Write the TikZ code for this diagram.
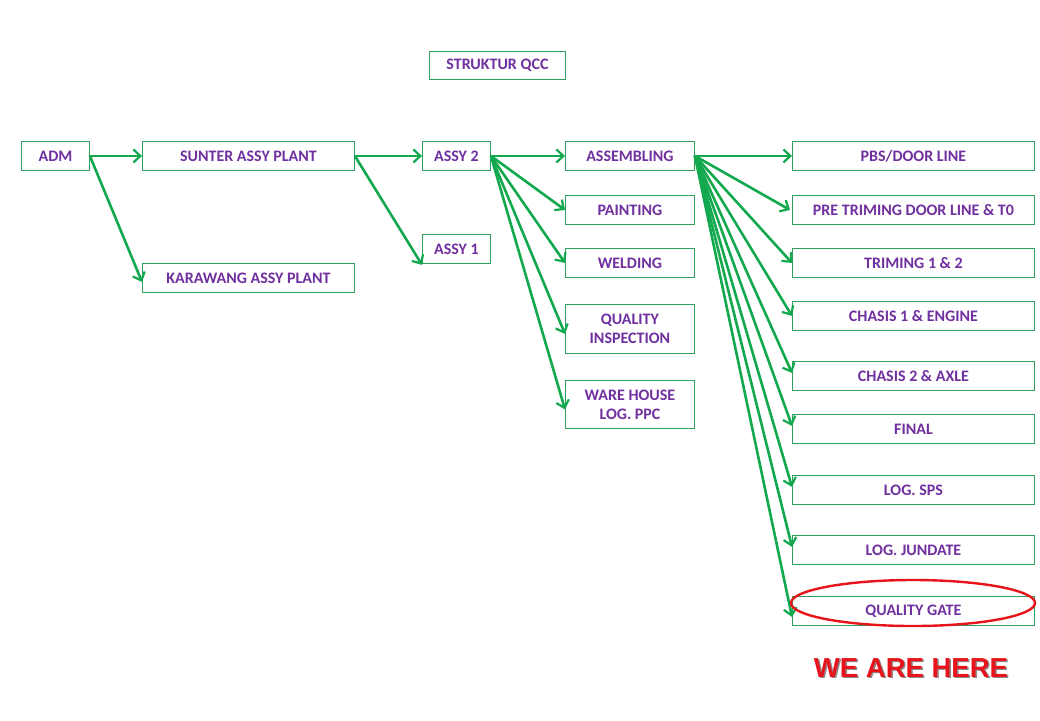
\documentclass[tikz,border=0pt]{standalone}
\usepackage{fontspec}
\setmainfont{Carlito}
\newfontfamily\arialfont{Liberation Sans}
\usetikzlibrary{arrows.meta,shapes.geometric}
\definecolor{boxgreen}{HTML}{2E9E5E}
\definecolor{arrgreen}{HTML}{12A84E}
\definecolor{txtpurple}{HTML}{7030A0}
\definecolor{hered}{HTML}{E8141B}
\tikzset{
  bx/.style={draw=boxgreen, line width=0.9pt, fill=white, inner sep=0pt, anchor=north west,
    font=\fontsize{16}{19}\selectfont\bfseries, text=txtpurple, align=center},
  arr/.style={draw=arrgreen, line width=2.6pt, -{Straight Barb[length=7pt,width=13pt,line width=2.2pt]}},
  heretxt/.style={font=\arialfont\fontsize{27.5}{30}\selectfont\bfseries}
}
\newcommand{\bxnode}[6]{% name, x1,y1,x2,y2, text
  \node[bx, minimum width={#4-#2}, minimum height={#5-#3}] (#1) at (#2,#3) {#6};}
\begin{document}
\begin{tikzpicture}[x=1pt,y=-1pt]
\useasboundingbox (0,0) rectangle (1040,720);
\bxnode{qcc}{429}{51}{565}{79}{STRUKTUR QCC}
\bxnode{adm}{21}{141}{89}{170}{ADM}
\bxnode{sunter}{142}{141}{354}{170}{SUNTER ASSY PLANT}
\bxnode{karawang}{142}{263}{354}{292}{KARAWANG ASSY PLANT}
\bxnode{assy2}{422}{141}{490}{170}{ASSY 2}
\bxnode{assy1}{422}{234}{490}{263}{ASSY 1}
\bxnode{assembling}{565}{141}{694}{170}{ASSEMBLING}
\bxnode{painting}{565}{195}{694}{224}{PAINTING}
\bxnode{welding}{565}{248}{694}{277}{WELDING}
\bxnode{qi}{565}{304}{694}{353}{QUALITY\\INSPECTION}
\bxnode{wh}{565}{380}{694}{428}{WARE HOUSE\\LOG. PPC}
\bxnode{pbs}{792}{141}{1034}{170}{PBS/DOOR LINE}
\bxnode{pre}{792}{195}{1034}{224}{PRE TRIMING DOOR LINE \& T0}
\bxnode{trim}{792}{248}{1034}{277}{TRIMING 1 \& 2}
\bxnode{ch1}{792}{301}{1034}{330}{CHASIS 1 \& ENGINE}
\bxnode{ch2}{792}{361}{1034}{390}{CHASIS 2 \& AXLE}
\bxnode{final}{792}{414}{1034}{443}{FINAL}
\bxnode{sps}{792}{475}{1034}{504}{LOG. SPS}
\bxnode{jun}{792}{535}{1034}{564}{LOG. JUNDATE}
\bxnode{qg}{792}{596}{1034}{625}{QUALITY GATE}
% connectors
\draw[arr] (adm.east) -- (sunter.west);
\draw[arr] (adm.east) -- ([yshift=-4pt]karawang.west);
\draw[arr] (sunter.east) -- (assy2.west);
\draw[arr] (sunter.east) -- ([yshift=-1pt]assy1.south west);
\draw[arr] (assy2.east) -- (assembling.west);
\draw[arr] (assy2.east) -- (painting.west);
\draw[arr] (assy2.east) -- (welding.west);
\draw[arr] (assy2.east) -- ([yshift=-5pt]qi.west);
\draw[arr] (assy2.east) -- ([yshift=-5pt]wh.west);
\draw[arr] (assembling.east) -- (pbs.west);
\draw[arr] (assembling.east) -- ([xshift=-2pt]pre.west);
\draw[arr] (assembling.east) -- (trim.west);
\draw[arr] (assembling.east) -- (ch1.west);
\draw[arr] (assembling.east) -- ([yshift=3pt]ch2.west);
\draw[arr] (assembling.east) -- ([yshift=3pt]final.west);
\draw[arr] (assembling.east) -- ([yshift=3pt]sps.west);
\draw[arr] (assembling.east) -- ([yshift=3pt]jun.west);
\draw[arr] (assembling.east) -- ([yshift=-6pt]qg.west);
% highlight
\node[draw=hered, line width=2.4pt, ellipse, minimum width=244pt, minimum height=46pt, inner sep=0pt] (circ) at (913,603) {};
\node[heretxt, text=black!45] (hereshadow) at (912.5,669.5) {WE ARE HERE};
\node[heretxt, text=hered] (here) at (911,668) {WE ARE HERE};
\end{tikzpicture}
\end{document}
